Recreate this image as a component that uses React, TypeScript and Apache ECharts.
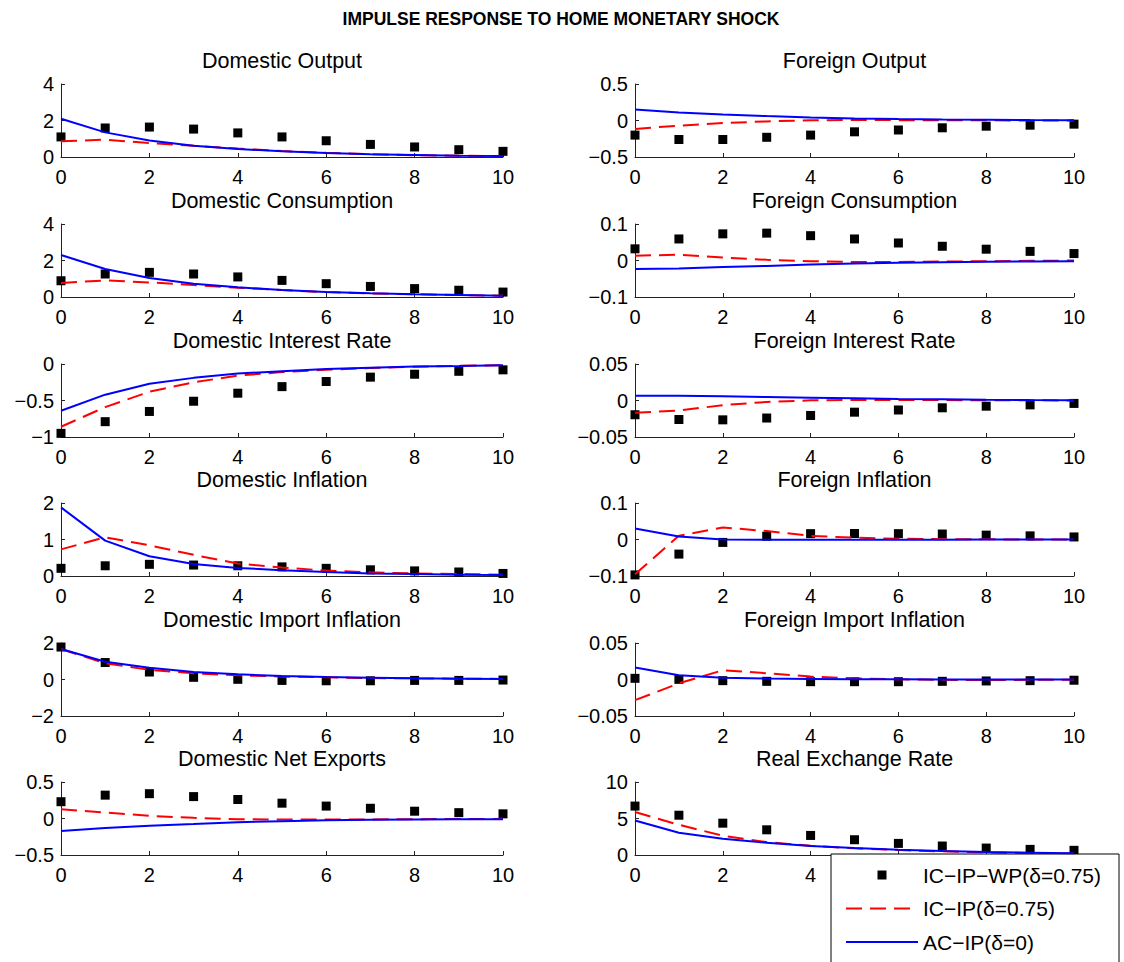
import React, { useEffect, useRef } from "react";
import * as echarts from "echarts";

const periods = [0, 1, 2, 3, 4, 5, 6, 7, 8, 9, 10];
const seriesNames = ["IC−IP−WP(δ=0.75)", "IC−IP(δ=0.75)", "AC−IP(δ=0)"];
const mainTitle = "IMPULSE RESPONSE TO HOME MONETARY SHOCK";
const panelTitles = [
  "Domestic Output", "Foreign Output",
  "Domestic Consumption", "Foreign Consumption",
  "Domestic Interest Rate", "Foreign Interest Rate",
  "Domestic Inflation", "Foreign Inflation",
  "Domestic Import Inflation", "Foreign Import Inflation",
  "Domestic Net Exports", "Real Exchange Rate",
];

// IC-IP-WP (squares)
const domOutputWP = [1.10, 1.59, 1.64, 1.53, 1.32, 1.10, 0.89, 0.69, 0.55, 0.40, 0.31];
const forOutputWP = [-0.20, -0.26, -0.26, -0.23, -0.20, -0.155, -0.13, -0.10, -0.078, -0.064, -0.05];
const domConsWP = [0.89, 1.26, 1.35, 1.26, 1.10, 0.91, 0.73, 0.58, 0.46, 0.37, 0.27];
const forConsWP = [0.032, 0.059, 0.073, 0.075, 0.068, 0.059, 0.048, 0.039, 0.031, 0.025, 0.019];
const domRateWP = [-0.95, -0.79, -0.65, -0.51, -0.40, -0.31, -0.24, -0.18, -0.14, -0.10, -0.08];
const forRateWP = [-0.0195, -0.026, -0.0265, -0.024, -0.0205, -0.016, -0.013, -0.010, -0.0078, -0.006, -0.004];
const domInflWP = [0.21, 0.28, 0.32, 0.30, 0.28, 0.25, 0.21, 0.17, 0.14, 0.11, 0.07];
const forInflWP = [-0.097, -0.040, -0.008, 0.009, 0.016, 0.0165, 0.016, 0.015, 0.012, 0.010, 0.007];
const domImpWP = [1.78, 0.93, 0.41, 0.12, 0.01, -0.05, -0.07, -0.07, -0.05, -0.05, -0.03];
const forImpWP = [0.0016, 0.0002, -0.0016, -0.0025, -0.003, -0.003, -0.003, -0.0025, -0.002, -0.0016, -0.001];
const domNxWP = [0.23, 0.32, 0.34, 0.30, 0.26, 0.21, 0.17, 0.14, 0.10, 0.08, 0.064];
const rerWP = [6.7, 5.45, 4.36, 3.45, 2.68, 2.09, 1.59, 1.23, 0.95, 0.77, 0.64];

// IC-IP (red dashed)
const domOutputIC = [0.86, 0.95, 0.77, 0.62, 0.46, 0.33, 0.23, 0.15, 0.10, 0.07, 0.05];
const forOutputIC = [-0.115, -0.07, -0.035, -0.012, 0.004, 0.006, 0.005, 0.003, 0.002, 0.001, 0];
const domConsIC = [0.77, 0.91, 0.80, 0.66, 0.51, 0.38, 0.27, 0.20, 0.15, 0.11, 0.07];
const forConsIC = [0.013, 0.016, 0.008, 0.002, -0.002, -0.004, -0.004, -0.003, -0.002, -0.001, 0];
const domRateIC = [-0.86, -0.59, -0.38, -0.25, -0.16, -0.11, -0.08, -0.055, -0.037, -0.025, -0.015];
const forRateIC = [-0.0167, -0.0137, -0.0064, -0.002, 0.0002, 0.0007, 0.0007, 0.0006, 0.0004, 0.0002, 0.0001];
const domInflIC = [0.73, 1.06, 0.84, 0.58, 0.34, 0.23, 0.15, 0.10, 0.07, 0.055, 0.037];
const forInflIC = [-0.095, 0.010, 0.033, 0.023, 0.010, 0.005, 0.002, 0.001, 0.0005, 0, 0];
const domImpIC = [1.67, 0.89, 0.53, 0.34, 0.23, 0.16, 0.12, 0.08, 0.06, 0.045, 0.03];
const forImpIC = [-0.0283, -0.0053, 0.0127, 0.0085, 0.004, 0.0016, 0.0002, -0.0005, -0.0007, -0.0005, -0.0002];
const domNxIC = [0.127, 0.082, 0.036, 0.009, -0.009, -0.014, -0.014, -0.013, -0.010, -0.007, -0.005];
const rerIC = [5.9, 4.14, 2.64, 1.77, 1.27, 0.91, 0.68, 0.50, 0.36, 0.27, 0.18];

// AC-IP (blue solid)
const domOutputAC = [2.10, 1.35, 0.91, 0.62, 0.44, 0.31, 0.22, 0.15, 0.11, 0.07, 0.05];
const forOutputAC = [0.15, 0.11, 0.082, 0.06, 0.04, 0.028, 0.02, 0.014, 0.01, 0.006, 0.003];
const domConsAC = [2.30, 1.53, 1.04, 0.73, 0.53, 0.38, 0.27, 0.20, 0.15, 0.11, 0.07];
const forConsAC = [-0.023, -0.022, -0.018, -0.015, -0.011, -0.008, -0.006, -0.0045, -0.0035, -0.0025, -0.002];
const domRateAC = [-0.64, -0.42, -0.27, -0.19, -0.13, -0.10, -0.07, -0.05, -0.035, -0.027, -0.018];
const forRateAC = [0.0066, 0.0066, 0.0057, 0.0048, 0.0039, 0.003, 0.002, 0.0016, 0.0011, 0.0007, 0.0005];
const domInflAC = [1.88, 0.97, 0.54, 0.33, 0.22, 0.16, 0.11, 0.07, 0.055, 0.037, 0.027];
const forInflAC = [0.030, 0.008, 0, -0.001, -0.001, -0.0008, -0.0006, -0.0004, -0.0003, -0.0002, -0.0001];
const domImpAC = [1.67, 0.97, 0.64, 0.41, 0.29, 0.19, 0.14, 0.10, 0.065, 0.045, 0.03];
const forImpAC = [0.0164, 0.0058, 0.0025, 0.0012, 0.0007, 0.0003, 0.0002, 0.0001, 0, 0, 0];
const domNxAC = [-0.17, -0.13, -0.10, -0.077, -0.05, -0.036, -0.023, -0.018, -0.014, -0.009, -0.009];
const rerAC = [4.73, 3.05, 2.23, 1.68, 1.23, 0.95, 0.73, 0.55, 0.41, 0.32, 0.23];

// y tick labels per panel
const yTicks = [
  [0, 2, 4], [-0.5, 0, 0.5],
  [0, 2, 4], [-0.1, 0, 0.1],
  [-1, -0.5, 0], [-0.05, 0, 0.05],
  [0, 1, 2], [-0.1, 0, 0.1],
  [-2, 0, 2], [-0.05, 0, 0.05],
  [-0.5, 0, 0.5], [0, 5, 10],
];
const xTicks = [0, 2, 4, 6, 8, 10];
// x tick labels of the last panel that stay visible (the rest lie under the legend box)
const lastPanelVisibleXTicks = [0, 2, 4];

const wpList = [domOutputWP, forOutputWP, domConsWP, forConsWP, domRateWP, forRateWP, domInflWP, forInflWP, domImpWP, forImpWP, domNxWP, rerWP];
const icList = [domOutputIC, forOutputIC, domConsIC, forConsIC, domRateIC, forRateIC, domInflIC, forInflIC, domImpIC, forImpIC, domNxIC, rerIC];
const acList = [domOutputAC, forOutputAC, domConsAC, forConsAC, domRateAC, forRateAC, domInflAC, forInflAC, domImpAC, forImpAC, domNxAC, rerAC];

const FONT = "'Liberation Sans', Arial, Helvetica, sans-serif";
const COL_LEFT = [61, 635];
const COL_WIDTH = [442, 439];
const ROW_TOP = [84, 224, 364, 503, 643, 782];
const PLOT_H = 73;
const AXIS_COLOR = "#222";

const fmt = (v: number) => String(v).replace("-", "\u2212");

function buildOption() {
  const grids: any[] = [];
  const xAxes: any[] = [];
  const yAxes: any[] = [];
  const series: any[] = [];
  const titles: any[] = [
    {
      text: mainTitle,
      left: 561,
      top: 19,
      padding: 0,
      textAlign: "center",
      textVerticalAlign: "middle",
      textStyle: { fontSize: 17.5, fontWeight: "bold", color: "#000", fontFamily: FONT },
    },
  ];
  const lastIdx = panelTitles.length - 1;
  panelTitles.forEach((t, i) => {
    const col = i % 2;
    const row = Math.floor(i / 2);
    const left = COL_LEFT[col];
    const width = COL_WIDTH[col];
    const top = ROW_TOP[row];
    grids.push({ left, top, width, height: PLOT_H });
    titles.push({
      text: t,
      left: left + width / 2,
      top: top - 23,
      padding: 0,
      textAlign: "center",
      textVerticalAlign: "middle",
      textStyle: { fontSize: 21.5, fontWeight: "normal", color: "#000", fontFamily: FONT },
    });
    const ticks = yTicks[i];
    xAxes.push({
      gridIndex: i,
      type: "value",
      min: xTicks[0],
      max: xTicks[xTicks.length - 1],
      interval: xTicks[1] - xTicks[0],
      axisLine: { show: true, onZero: false, lineStyle: { color: AXIS_COLOR, width: 1 } },
      axisTick: { show: true, inside: true, length: 4, lineStyle: { color: AXIS_COLOR, width: 1 } },
      axisLabel: {
        fontSize: 20,
        color: "#000",
        margin: 10,
        fontFamily: FONT,
        formatter:
          i === lastIdx
            ? (v: number) => (lastPanelVisibleXTicks.indexOf(v) >= 0 ? String(v) : "")
            : (v: number) => String(v),
      },
      splitLine: { show: false },
    });
    yAxes.push({
      gridIndex: i,
      type: "value",
      min: ticks[0],
      max: ticks[ticks.length - 1],
      interval: ticks[1] - ticks[0],
      axisLine: { show: true, onZero: false, lineStyle: { color: AXIS_COLOR, width: 1 } },
      axisTick: { show: true, inside: true, length: 4, lineStyle: { color: AXIS_COLOR, width: 1 } },
      axisLabel: { fontSize: 20, color: "#000", margin: 7, fontFamily: FONT, formatter: fmt },
      splitLine: { show: false },
    });
    series.push({
      name: seriesNames[0],
      type: "scatter",
      xAxisIndex: i,
      yAxisIndex: i,
      symbol: "rect",
      symbolSize: 9,
      itemStyle: { color: "#000", opacity: 1 },
      z: 2,
      data: periods.map((x, k) => [x, wpList[i][k]]),
    });
    series.push({
      name: seriesNames[1],
      type: "line",
      xAxisIndex: i,
      yAxisIndex: i,
      symbol: "none",
      showSymbol: false,
      lineStyle: { color: "#ff0000", width: 2, type: [16, 8] },
      itemStyle: { color: "#ff0000" },
      z: 3,
      data: periods.map((x, k) => [x, icList[i][k]]),
    });
    series.push({
      name: seriesNames[2],
      type: "line",
      xAxisIndex: i,
      yAxisIndex: i,
      symbol: "none",
      showSymbol: false,
      lineStyle: { color: "#0000ff", width: 2 },
      itemStyle: { color: "#0000ff" },
      z: 4,
      data: periods.map((x, k) => [x, acList[i][k]]),
    });
  });

  return {
    animation: false,
    backgroundColor: "#fff",
    title: titles,
    grid: grids,
    xAxis: xAxes,
    yAxis: yAxes,
    series,
    legend: {
      orient: "vertical",
      left: 831,
      top: 854,
      height: 130,
      itemWidth: 72,
      itemHeight: 9,
      itemGap: 12.5,
      padding: [10.5, 18, 30, 14],
      backgroundColor: "#fff",
      borderColor: "#000",
      borderWidth: 1,
      borderRadius: 0,
      selectedMode: false,
      textStyle: { fontSize: 21, color: "#000", fontFamily: FONT },
      data: [
        { name: seriesNames[0], icon: "path://M0,0L10,0L10,10L0,10Z" },
        { name: seriesNames[1], itemStyle: { opacity: 0 } },
        { name: seriesNames[2], itemStyle: { opacity: 0 } },
      ],
    },
  };
}

export default function App() {
  const ref = useRef<HTMLDivElement>(null);
  useEffect(() => {
    if (!ref.current) return;
    const chart = echarts.init(ref.current, undefined, { renderer: "svg" });
    chart.setOption(buildOption() as any);
    return () => chart.dispose();
  }, []);
  return (
    <div
      ref={ref}
      style={{ position: "absolute", left: 0, top: 0, width: 1124, height: 962, background: "#fff" }}
    />
  );
}
